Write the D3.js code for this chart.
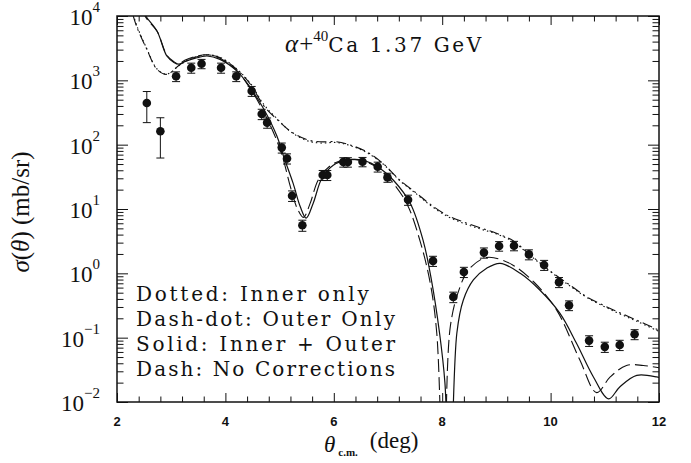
<!DOCTYPE html>
<html>
<head>
<meta charset="utf-8">
<script src="https://cdn.jsdelivr.net/npm/d3@7"></script>
<style>
  html, body { margin: 0; padding: 0; background: #fff; }
  svg { display: block; }
</style>
</head>
<body>
<div id="chart"></div>
<script>
// measured cross sections (deg, mb/sr)
const dataTheta = [2.55, 2.80, 3.09, 3.37, 3.56, 3.92, 4.20, 4.485, 4.67, 4.77, 5.04, 5.137, 5.23, 5.42,
  5.795, 5.88, 6.175, 6.26, 6.53, 6.81, 6.99, 7.37, 7.83, 8.205, 8.40, 8.77, 9.05, 9.325, 9.60, 9.88,
  10.155, 10.34, 10.71, 11.0, 11.275, 11.55];
const dataSigma = [445, 162, 1155, 1570, 1815, 1570, 1155, 683, 300, 220, 90, 61, 16.1, 5.6,
  33.7, 33.7, 53.7, 53.7, 54.3, 45.5, 31, 13.9, 1.56, 0.43, 1.05, 2.1, 2.66, 2.69, 1.97, 1.35,
  0.73, 0.318, 0.09, 0.072, 0.077, 0.113];
const dataErr = [225, 100, 200, 280, 300, 280, 200, 120, 55, 40, 16, 11, 3, 1.1,
  6, 6, 9, 9, 9, 8, 5, 2.5, 0.28, 0.08, 0.19, 0.38, 0.45, 0.45, 0.35, 0.24,
  0.13, 0.055, 0.017, 0.013, 0.014, 0.02];

// Solid: Inner + Outer
const solidTheta = [2.45, 2.53, 2.74, 2.92, 3.05, 3.14, 3.25, 3.415, 3.66, 3.9, 4.21, 4.46, 4.71, 4.95, 5.07,
  5.25, 5.38, 5.49, 5.62, 5.78, 5.99, 6.24, 6.54, 6.85, 7.10, 7.41, 7.65, 7.8, 7.95, 8.05, 8.14, 8.27,
  8.39, 8.575, 8.82, 9.07, 9.44, 9.80, 10.17, 10.48, 10.79, 11.07, 11.28, 11.59, 11.96, 12.0];
const solidSigma = [14000, 10000, 5780, 2390, 1900, 1780, 1950, 2170, 2390, 2120, 1400, 770, 355, 136, 67,
  25, 10.9, 7.2, 12.3, 30, 48, 57.5, 57, 43, 28, 12.3, 3.2, 0.8, 0.12, 0.02, 0.0003, 0.117,
  0.385, 0.79, 1.2, 1.43, 1.0, 0.55, 0.24, 0.081, 0.0245, 0.0112, 0.0173, 0.026, 0.0245, 0.024];

// Dash: No Corrections
const dashTheta = [2.45, 2.55, 2.74, 2.92, 3.05, 3.14, 3.25, 3.41, 3.66, 3.9, 4.21, 4.46, 4.71, 4.95, 5.07,
  5.2, 5.33, 5.44, 5.56, 5.72, 5.95, 6.2, 6.5, 6.8, 7.05, 7.35, 7.6, 7.78, 7.9, 8.03, 8.15, 8.33,
  8.48, 8.76, 8.95, 9.3, 9.7, 10.11, 10.54, 10.85, 11.1, 11.4, 11.71, 12.0];
const dashSigma = [13000, 9000, 5800, 2450, 1950, 1800, 2050, 2300, 2500, 2200, 1420, 740, 320, 115, 58,
  22, 10, 7.4, 12, 29, 48, 58, 57, 44, 28, 12, 3.0, 0.7, 0.117, 0.0003, 0.15, 0.62,
  1.12, 1.71, 1.75, 1.35, 0.72, 0.27, 0.045, 0.014, 0.0245, 0.037, 0.037, 0.034];

// Dash-dot: Outer only
const dashDotTheta = [2.3, 2.37, 2.55, 2.74, 2.92, 3.17, 3.41, 3.66, 3.91, 4.21, 4.46, 4.71, 4.95, 5.2, 5.5,
  5.75, 6.05, 6.3, 6.6, 6.91, 7.22, 7.53, 7.77, 8.08, 8.39, 8.70, 9.0, 9.31, 9.62, 10.05, 10.4,
  10.67, 11.16, 11.59, 12.0];
const dashDotSigma = [10000, 6600, 3040, 1480, 1240, 1780, 2240, 2480, 2240, 1480, 870, 400, 248, 162, 120,
  111, 111, 99, 78, 51, 28, 17.5, 12, 8.1, 6.3, 5.1, 4.2, 3.2, 1.95, 1.0, 0.62,
  0.43, 0.27, 0.187, 0.13];

// Dotted: Inner only
const dottedTheta = [2.3, 2.37, 2.55, 2.74, 2.92, 3.17, 3.41, 3.66, 3.91, 4.21, 4.46, 4.71, 4.95, 5.2, 5.5,
  5.75, 6.05, 6.3, 6.6, 6.91, 7.22, 7.53, 7.77, 8.08, 8.39, 8.70, 9.0, 9.31, 9.62, 10.05, 10.4,
  10.67, 11.16, 11.59, 12.0];
const dottedSigma = [10500, 6900, 3100, 1500, 1250, 1760, 2260, 2500, 2260, 1500, 900, 420, 255, 160, 116,
  106, 108, 97, 76, 50, 27.5, 17, 11.6, 7.8, 6.0, 4.9, 4.1, 3.1, 1.9, 0.98, 0.6,
  0.42, 0.26, 0.18, 0.125];

const xMajor = [2, 4, 6, 8, 10, 12];
const yMajor = [1e-2, 1e-1, 1, 10, 100, 1000, 10000];
const yExp = ['\u22122', '\u22121', '0', '1', '2', '3', '4'];
const legendLines = ['Dotted: Inner only', 'Dash-dot: Outer Only', 'Solid: Inner + Outer', 'Dash: No Corrections'];

const W = 691, H = 463;
const margin = { top: 16, right: 32, bottom: 61, left: 117 };
const width = W - margin.left - margin.right;
const height = H - margin.top - margin.bottom;
const ink = '#111';
const serif = "'Liberation Serif', 'Times New Roman', serif";
const typeFace = "'DejaVu Serif', serif";

const svg = d3.select('#chart').append('svg')
  .attr('width', W)
  .attr('height', H);

const g = svg.append('g')
  .attr('transform', `translate(${margin.left},${margin.top})`);

const x = d3.scaleLinear().domain([2, 12]).range([0, width]);
const y = d3.scaleLog().domain([1e-2, 1e4]).range([height, 0]);

svg.append('defs').append('clipPath').attr('id', 'plotClip')
  .append('rect').attr('width', width).attr('height', height);

// minor ticks
const xMinor = d3.range(2, 12.001, 0.4).filter(v => Math.abs(v / 2 - Math.round(v / 2)) > 1e-6);
const yMinor = y.ticks().filter(v => !yMajor.some(m => Math.abs(m - v) / m < 1e-6));

function tickAxis(axisFn, scale, vals, size, transform) {
  g.append('g')
    .attr('transform', transform || null)
    .call(axisFn(scale).tickValues(vals).tickSize(size).tickFormat(''))
    .call(s => s.select('.domain').remove())
    .call(s => s.selectAll('line').attr('stroke', ink).attr('stroke-width', 1));
}
tickAxis(d3.axisBottom, x, xMajor, -9, `translate(0,${height})`);
tickAxis(d3.axisBottom, x, xMinor, -5.5, `translate(0,${height})`);
tickAxis(d3.axisTop, x, xMajor, -9);
tickAxis(d3.axisTop, x, xMinor, -5.5);
tickAxis(d3.axisLeft, y, yMajor, -11);
tickAxis(d3.axisLeft, y, yMinor, -6.5);
tickAxis(d3.axisRight, y, yMajor, -11, `translate(${width},0)`);
tickAxis(d3.axisRight, y, yMinor, -6.5, `translate(${width},0)`);

// frame
g.append('rect')
  .attr('width', width).attr('height', height)
  .attr('fill', 'none').attr('stroke', ink).attr('stroke-width', 1.5);

// x tick labels
g.selectAll('text.xlab').data(xMajor).enter().append('text')
  .attr('class', 'xlab')
  .attr('x', d => x(d))
  .attr('y', height + 24)
  .attr('text-anchor', 'middle')
  .attr('font-family', "'Liberation Sans', sans-serif")
  .attr('font-weight', 'bold')
  .attr('font-size', 13)
  .attr('fill', ink)
  .text(d => d);

// y tick labels 10^n
const ylab = g.selectAll('text.ylab').data(yMajor).enter().append('text')
  .attr('class', 'ylab')
  .attr('x', -17)
  .attr('y', d => y(d) + 9)
  .attr('text-anchor', 'end')
  .attr('font-family', serif)
  .attr('font-size', 23)
  .attr('fill', ink);
ylab.append('tspan').text('10');
ylab.append('tspan')
  .attr('dy', -13)
  .attr('font-size', 15)
  .text((d, i) => yExp[i]);

// curves
const line = d3.line()
  .x(d => x(d[0]))
  .y(d => y(Math.max(d[1], 1e-5)))
  .curve(d3.curveCatmullRom.alpha(0.5));

const curves = [
  { t: dottedTheta, v: dottedSigma, dash: '1.5,3', w: 1.1 },
  { t: dashDotTheta, v: dashDotSigma, dash: '10,4,2,4', w: 1.1 },
  { t: solidTheta, v: solidSigma, dash: null, w: 1.2 },
  { t: dashTheta, v: dashSigma, dash: '13,5', w: 1.1 }
];

const curveG = g.append('g').attr('clip-path', 'url(#plotClip)');
curves.forEach(c => {
  curveG.append('path')
    .datum(c.t.map((t, i) => [t, c.v[i]]))
    .attr('d', line)
    .attr('fill', 'none')
    .attr('stroke', ink)
    .attr('stroke-width', c.w)
    .attr('stroke-dasharray', c.dash);
});

// data points with error bars
const pts = dataTheta.map((t, i) => ({ t, s: dataSigma[i], e: dataErr[i] }));
const pg = g.append('g').attr('clip-path', 'url(#plotClip)');
const pgs = pg.selectAll('g.pt').data(pts).enter().append('g').attr('class', 'pt');
pgs.append('line')
  .attr('x1', d => x(d.t)).attr('x2', d => x(d.t))
  .attr('y1', d => y(d.s + d.e)).attr('y2', d => y(Math.max(d.s - d.e, 1e-5)))
  .attr('stroke', ink).attr('stroke-width', 1);
[d => d.s + d.e, d => d.s - d.e].forEach(fn => {
  pgs.append('line')
    .attr('x1', d => x(d.t) - 4).attr('x2', d => x(d.t) + 4)
    .attr('y1', d => y(fn(d))).attr('y2', d => y(fn(d)))
    .attr('stroke', ink).attr('stroke-width', 1);
});
pgs.append('circle')
  .attr('cx', d => x(d.t)).attr('cy', d => y(d.s))
  .attr('r', 4.3)
  .attr('fill', ink);

// title inside plot
const title = g.append('text')
  .attr('x', 168).attr('y', 36)
  .attr('fill', ink)
  .attr('font-family', serif)
  .attr('font-size', 25);
title.append('tspan').attr('font-style', 'italic').text('\u03b1');
title.append('tspan').attr('dx', 1).text('+');
title.append('tspan').attr('font-size', 15).attr('dy', -11).text('40');
title.append('tspan').attr('dy', 11).attr('font-size', 20).attr('font-family', typeFace)
  .attr('textLength', 153).attr('lengthAdjust', 'spacing').text('Ca 1.37 GeV');

// legend text
g.selectAll('text.leg').data(legendLines).enter().append('text')
  .attr('class', 'leg')
  .attr('x', 19)
  .attr('y', (d, i) => 285 + i * 25)
  .attr('font-family', typeFace)
  .attr('font-size', 20)
  .attr('fill', ink)
  .attr('textLength', d => d.length * 13.15 - 4)
  .attr('lengthAdjust', 'spacing')
  .text(d => d);

// axis titles
const ytitle = svg.append('text')
  .attr('transform', 'translate(29,212) rotate(-90)')
  .attr('text-anchor', 'middle')
  .attr('font-family', serif)
  .attr('font-size', 25)
  .attr('fill', ink);
ytitle.append('tspan').attr('font-style', 'italic').text('\u03c3');
ytitle.append('tspan').text('(');
ytitle.append('tspan').attr('font-style', 'italic').text('\u03b8');
ytitle.append('tspan').text(')  (mb/sr)');

const xtitle = svg.append('text')
  .attr('x', 324).attr('y', 452)
  .attr('font-family', serif)
  .attr('font-size', 23)
  .attr('fill', ink);
xtitle.append('tspan').attr('font-style', 'italic').text('\u03b8');
xtitle.append('tspan').attr('font-size', 11).attr('font-weight', 'bold').attr('dx', 3).attr('dy', 4).text('c.m.');
xtitle.append('tspan').attr('dx', 12).attr('dy', -8).text('(deg)');
</script>
</body>
</html>
